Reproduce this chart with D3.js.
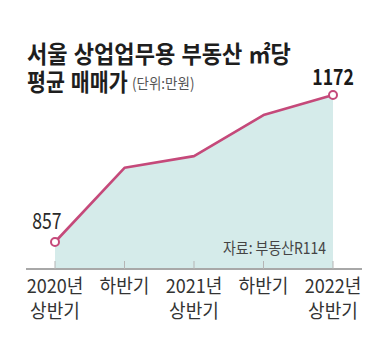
<!DOCTYPE html>
<html><head><meta charset="utf-8">
<script src="https://cdn.jsdelivr.net/npm/d3@7"></script>
<style>
body{margin:0;background:#fff;}
svg{display:block;}
text{font-family:"Noto Sans CJK KR","Noto Sans",sans-serif;}
text.ttl{font-family:"Liberation Sans","Noto Sans CJK KR",sans-serif;}
</style></head><body>
<svg id="c" width="383" height="345"></svg>
<script>
const categories = ["2020년|상반기","하반기","2021년|상반기","하반기","2022년|상반기"];
const values = [857, 1016, 1041, 1129, 1172];
const titleLines = ["서울 상업업무용 부동산 ㎡당", "평균 매매가"];
const unitLabel = "(단위:만원)";
const sourceLabel = "자료: 부동산R114";

const svg = d3.select("#c");
const x = d3.scalePoint().domain(d3.range(categories.length)).range([55, 333]);
const y = d3.scaleLinear().domain([857, 1172]).range([242, 95]);
const baseY = 269;

// area
svg.append("path")
  .datum(values)
  .attr("fill", "#d5ebea")
  .attr("d", d3.area().x((d,i)=>x(i)).y0(baseY).y1(d=>y(d)));

// axis
const axis = d3.axisBottom(x).tickSize(0).tickFormat("");
const gA = svg.append("g").attr("transform", `translate(0,${baseY})`).call(axis);
gA.select(".domain").remove();
svg.append("line").attr("x1", 26).attr("x2", 362).attr("y1", baseY).attr("y2", baseY)
  .attr("stroke", "#a8a8a8").attr("stroke-width", 2);
svg.selectAll(".tk").data(categories).enter().append("line")
  .attr("x1", (d,i)=>x(i)).attr("x2", (d,i)=>x(i))
  .attr("y1", baseY-8).attr("y2", baseY)
  .attr("stroke", "#b5b5b5").attr("stroke-width", 1);

// line
svg.append("path").datum(values)
  .attr("fill", "none").attr("stroke", "#c5497a").attr("stroke-width", 2.6)
  .attr("stroke-linejoin", "round")
  .attr("d", d3.line().x((d,i)=>x(i)).y(d=>y(d)));

// markers first & last
const ends = [0, values.length-1];
svg.selectAll(".mk").data(ends).enter().append("circle")
  .attr("cx", i=>x(i)).attr("cy", i=>y(values[i])).attr("r", 4)
  .attr("fill", "#fff").attr("stroke", "#c5497a").attr("stroke-width", 2);

function cond(sel, cx, cy, s){ return sel.attr("transform", `translate(${cx},${cy}) scale(${s},1)`); }

// value labels
cond(svg.append("text").text(values[0]).attr("text-anchor","middle")
  .attr("font-size", 22).attr("fill", "#2a2a2a"), 47, 229, 0.8);
cond(svg.append("text").text(values[values.length-1]).attr("text-anchor","middle")
  .attr("font-size", 22).attr("font-weight", "bold").attr("fill", "#1a1a1a"), 333, 85, 0.8);

// title
cond(svg.append("text").attr("class","ttl").text(titleLines[0]).attr("font-size", 24).attr("font-weight", "bold")
  .attr("fill", "#1e1e1e"), 27, 63, 0.92);
cond(svg.append("text").attr("class","ttl").text(titleLines[1]).attr("font-size", 24).attr("font-weight", "bold")
  .attr("fill", "#1e1e1e"), 27, 91, 0.86);
cond(svg.append("text").text(unitLabel).attr("font-size", 15)
  .attr("fill", "#555"), 132, 89, 0.9);

// source
cond(svg.append("text").text(sourceLabel).attr("font-size", 16).attr("text-anchor", "end")
  .attr("fill", "#444"), 326, 254, 0.87);

// x labels
categories.forEach((c,i)=>{
  const parts = c.split("|");
  parts.forEach((p,j)=>{
    cond(svg.append("text").text(p).attr("text-anchor","middle").attr("font-size", 19)
      .attr("fill", "#333"), x(i), 293 + j*25, 0.95);
  });
});
</script></body></html>
